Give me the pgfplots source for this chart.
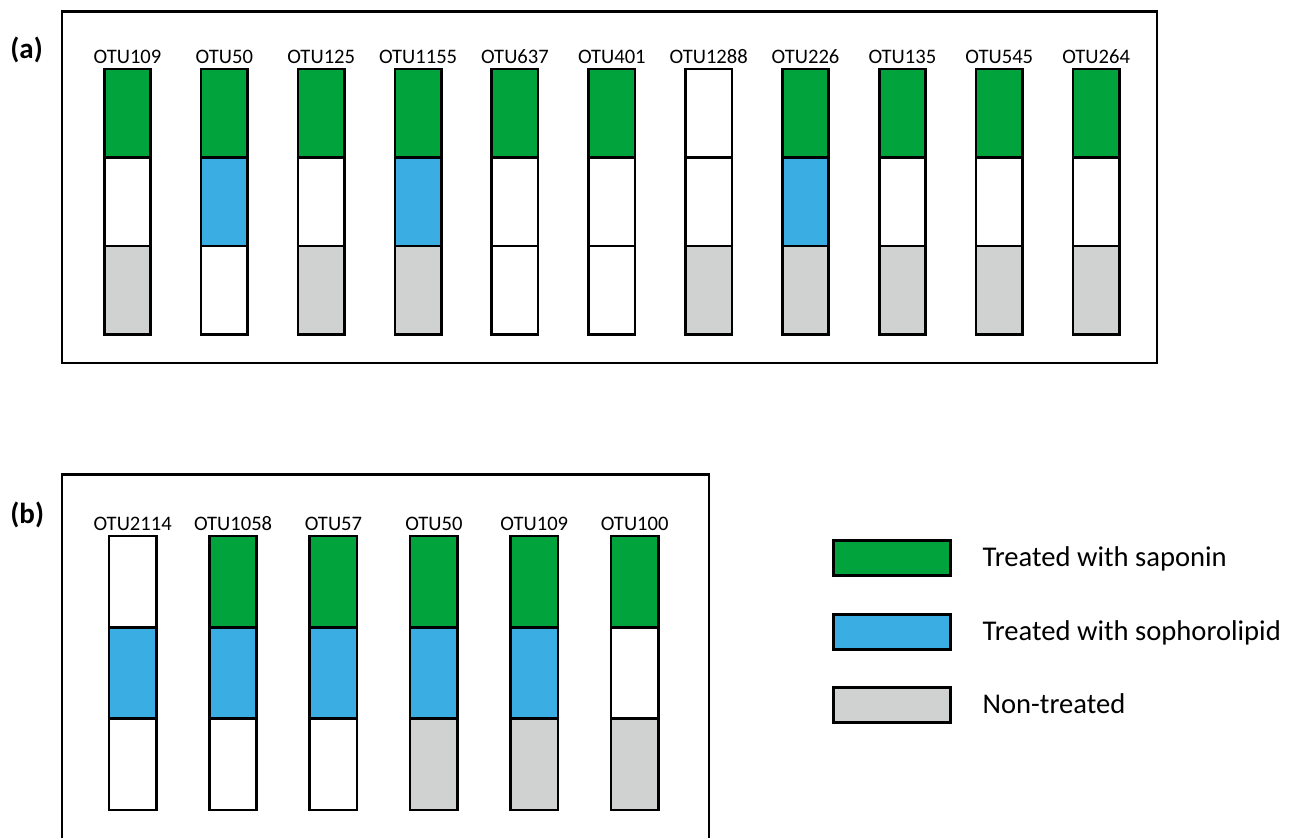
\documentclass[border=0pt]{standalone}
\usepackage{pgfplots}
\pgfplotsset{compat=1.18}
\usepackage{pgfplotstable}
\usepackage{fontspec}
\setmainfont{Carlito}

\definecolor{sapgreen}{RGB}{0,163,60}
\definecolor{sopblue}{RGB}{58,173,226}
\definecolor{nongray}{RGB}{208,210,209}

% Presence (1) / absence (0) of each OTU per treatment, stacked bottom to top:
% non-treated, sophorolipid, saponin; the w-columns are the empty (white) cells.
\pgfplotstableread{
x non wnon sop wsop sap wsap
0  1 0 0 1 1 0
1  0 1 1 0 1 0
2  1 0 0 1 1 0
3  1 0 1 0 1 0
4  0 1 0 1 1 0
5  0 1 0 1 1 0
6  1 0 0 1 0 1
7  1 0 1 0 1 0
8  1 0 0 1 1 0
9  1 0 0 1 1 0
10 1 0 0 1 1 0
}\tablea

\pgfplotstableread{
x non wnon sop wsop sap wsap
0 0 1 1 0 0 1
1 0 1 1 0 1 0
2 0 1 1 0 1 0
3 1 0 1 0 1 0
4 1 0 1 0 1 0
5 1 0 0 1 1 0
}\tableb

\pgfplotsset{
  cellgrid/.style={
    scale only axis,
    ybar stacked,
    xtick=\empty, ytick=\empty,
    axis line style={line width=1.15pt},
    clip=false,
  },
  cell/.style={draw=black, line width=1.3pt, fill=#1},
}

\newcommand{\otu}[2]{\node[anchor=base, font=\fontsize{10.3}{12}\selectfont] at (axis cs:#1,3.065) {#2};}

\begin{document}
\begin{tikzpicture}
\useasboundingbox (0,0) rectangle (648pt,-418.5pt);

\node[anchor=west, inner sep=0pt, font=\fontsize{14.5}{16}\selectfont\bfseries] at (5pt,-25pt) {(a)};
\node[anchor=west, inner sep=0pt, font=\fontsize{14.5}{16}\selectfont\bfseries] at (5pt,-257.5pt) {(b)};

% Panel (a)
\begin{axis}[cellgrid,
  at={(31pt,-5.75pt)}, anchor=north west,
  width=547.5pt, height=175.75pt,
  xmin=-0.676, xmax=10.628, ymin=-0.3246, ymax=3.650,
  bar width=23.2pt]
\addplot[cell=nongray] table[x=x,y=non] {\tablea};
\addplot[cell=white]   table[x=x,y=wnon] {\tablea};
\addplot[cell=sopblue] table[x=x,y=sop] {\tablea};
\addplot[cell=white]   table[x=x,y=wsop] {\tablea};
\addplot[cell=sapgreen] table[x=x,y=sap] {\tablea};
\addplot[cell=white]   table[x=x,y=wsap] {\tablea};
\otu{0}{OTU109}
\otu{1}{OTU50}
\otu{2}{OTU125}
\otu{3}{OTU1155}
\otu{4}{OTU637}
\otu{5}{OTU401}
\otu{6}{OTU1288}
\otu{7}{OTU226}
\otu{8}{OTU135}
\otu{9}{OTU545}
\otu{10}{OTU264}
\end{axis}

% Panel (b) with the treatment legend
\begin{axis}[cellgrid,
  at={(31pt,-237.25pt)}, anchor=north west,
  width=323.5pt, height=187.75pt,
  xmin=-0.704, xmax=5.740, ymin=-0.438, ymax=3.674,
  bar width=23.7pt,
  area legend,
  reverse legend,
  legend cell align=left,
  legend image code/.code={\draw[#1, line width=1.3pt] (0pt,-8.75pt) rectangle (58.5pt,8.75pt);},
  legend style={at={(1.1896,0.8282)}, anchor=north west, draw=none, fill=none,
    inner sep=0pt, row sep=17.95pt,
    font=\fontsize{14.3}{17}\selectfont,
    nodes={inner sep=0pt},
    /tikz/every odd column/.style={column sep=15.5pt}}]
\addplot[cell=nongray] table[x=x,y=non] {\tableb};
\addlegendentry{Non-treated}
\addplot[cell=white, forget plot] table[x=x,y=wnon] {\tableb};
\addplot[cell=sopblue] table[x=x,y=sop] {\tableb};
\addlegendentry{Treated with sophorolipid}
\addplot[cell=white, forget plot] table[x=x,y=wsop] {\tableb};
\addplot[cell=sapgreen] table[x=x,y=sap] {\tableb};
\addlegendentry{Treated with saponin}
\addplot[cell=white, forget plot] table[x=x,y=wsap] {\tableb};
\otu{0}{OTU2114}
\otu{1}{OTU1058}
\otu{2}{OTU57}
\otu{3}{OTU50}
\otu{4}{OTU109}
\otu{5}{OTU100}
\end{axis}
\end{tikzpicture}
\end{document}
